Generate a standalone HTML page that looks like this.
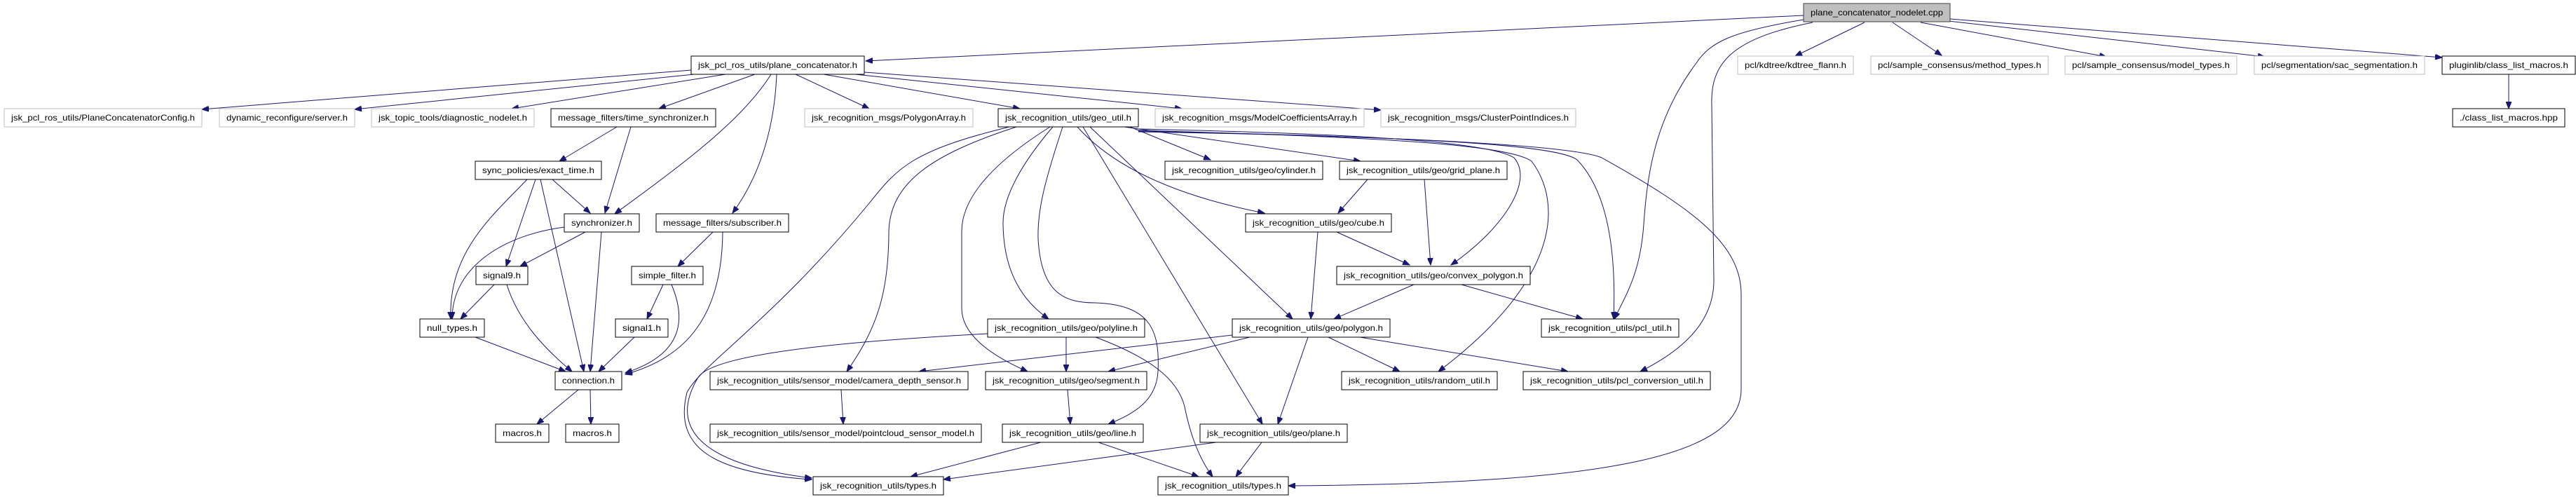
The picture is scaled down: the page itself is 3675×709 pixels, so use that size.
<!DOCTYPE html>
<html><head><meta charset="utf-8"><style>
html,body{margin:0;padding:0;background:#fff;}
svg{display:block;}
text{font-family:"Liberation Sans",sans-serif;font-size:12px;fill:#000;}
.g{fill:#fff;stroke:#bfbfbf;stroke-width:1;}
.b{fill:#fff;stroke:#000;stroke-width:1;}
.e{fill:none;stroke:#191970;stroke-width:1;marker-end:url(#a);}
</style></head><body>
<svg width="3675" height="709" viewBox="0 0 3675 709" xmlns="http://www.w3.org/2000/svg">
<defs><marker id="a" markerUnits="userSpaceOnUse" markerWidth="11" markerHeight="8" refX="10" refY="4" orient="auto"><path d="M0,0 L10,4 L0,8 z" fill="#191970" stroke="#191970"/></marker></defs>
<g>
<path class="e" d="M2573,22 L1235,87"/>
<path class="e" d="M2660,32 L2561,80"/>
<path class="e" d="M2700,32 L2770,79"/>
<path class="e" d="M2740,32 L3005,81"/>
<path class="e" d="M2780,30 L3231,81"/>
<path class="e" d="M2782,27 L3484,82"/>
<path class="e" d="M2573,28 C2470,45 2440,60 2420,90 C2360,170 2350,250 2345,320 C2340,390 2320,420 2303,455"/>
<path class="e" d="M2586,32 C2470,55 2440,90 2442,150 L2445,400 C2445,460 2400,500 2340,530"/>
<path class="e" d="M3579,106 L3579,155"/>
<path class="e" d="M986,100 L288,156"/>
<path class="e" d="M990,106 L506,156"/>
<path class="e" d="M1035,106 L730,155"/>
<path class="e" d="M1077,106 L940,155"/>
<path class="e" d="M1100,106 C1060,170 980,230 877,305"/>
<path class="e" d="M1108,106 C1105,180 1085,250 1045,304"/>
<path class="e" d="M1135,106 L1240,155"/>
<path class="e" d="M1175,106 L1455,155"/>
<path class="e" d="M1220,106 L1686,155"/>
<path class="e" d="M1233,103 L1970,157"/>
<path class="e" d="M880,181 L798,230"/>
<path class="e" d="M900,181 L863,304"/>
<path class="e" d="M788,256 L842,304"/>
<path class="e" d="M764,256 L722,380"/>
<path class="e" d="M752,256 C700,310 640,360 643,455"/>
<path class="e" d="M771,256 L833,530"/>
<path class="e" d="M805,324 C720,335 645,380 645,455"/>
<path class="e" d="M835,331 L742,380"/>
<path class="e" d="M858,331 L842,530"/>
<path class="e" d="M705,406 L657,455"/>
<path class="e" d="M723,406 C740,460 780,500 816,530"/>
<path class="e" d="M678,481 L807,530"/>
<path class="e" d="M905,481 L854,530"/>
<path class="e" d="M946,406 L923,455"/>
<path class="e" d="M958,406 C985,470 960,510 892,532"/>
<path class="e" d="M1017,331 L967,380"/>
<path class="e" d="M1031,331 C1030,450 980,510 892,534"/>
<path class="e" d="M825,556 L766,605"/>
<path class="e" d="M842,556 L843,605"/>
<path class="e" d="M1440,181 C1300,215 1280,240 1240,290 C1100,460 1000,520 980,560 C960,640 1020,675 1158,684"/>
<path class="e" d="M1450,181 C1330,220 1270,260 1268,330 C1268,420 1250,470 1208,530"/>
<path class="e" d="M1498,181 C1420,230 1372,280 1372,330 L1372,440 C1372,480 1420,510 1466,530"/>
<path class="e" d="M1502,181 C1460,230 1430,280 1431,320 C1432,390 1460,430 1496,455"/>
<path class="e" d="M1516,181 C1490,260 1480,300 1481,340 C1485,420 1520,432 1563,432 C1640,435 1655,470 1652,530 C1650,570 1620,590 1581,605"/>
<path class="e" d="M1545,181 L1801,605"/>
<path class="e" d="M1555,181 L1844,455"/>
<path class="e" d="M1612,181 L1727,228"/>
<path class="e" d="M1537,181 C1590,240 1680,280 1804,304"/>
<path class="e" d="M1604,181 L1941,230"/>
<path class="e" d="M1624,184 C1900,190 2120,200 2160,225 C2190,260 2140,330 2070,378"/>
<path class="e" d="M1624,186 C1950,195 2150,205 2185,230 C2230,290 2225,400 2052,530"/>
<path class="e" d="M1624,187 C2000,195 2220,205 2250,228 C2300,280 2305,380 2302,455"/>
<path class="e" d="M1624,188 C2050,195 2250,210 2285,225 C2420,300 2484,350 2484,420 L2484,555 C2484,650 2300,690 1838,693"/>
<path class="e" d="M1951,256 L1909,304"/>
<path class="e" d="M2032,256 L2041,378"/>
<path class="e" d="M1880,331 L1870,455"/>
<path class="e" d="M1907,331 L2011,378"/>
<path class="e" d="M2017,406 L1903,455"/>
<path class="e" d="M2085,406 L2258,455"/>
<path class="e" d="M1783,481 L1581,530"/>
<path class="e" d="M1758,478 L1311,530"/>
<path class="e" d="M1895,481 L1997,530"/>
<path class="e" d="M1940,481 L2237,530"/>
<path class="e" d="M1866,481 L1823,605"/>
<path class="e" d="M1521,481 L1521,530"/>
<path class="e" d="M1409,476 C1150,490 1010,510 995,540 C960,600 980,660 1158,682"/>
<path class="e" d="M1563,481 C1640,510 1680,540 1690,580 C1700,630 1715,660 1730,680"/>
<path class="e" d="M1200,556 L1203,605"/>
<path class="e" d="M1523,556 L1527,605"/>
<path class="e" d="M1485,631 L1299,680"/>
<path class="e" d="M1567,631 L1710,680"/>
<path class="e" d="M1735,631 L1346,684"/>
<path class="e" d="M1800,631 L1763,680"/>
</g>
<g>
<rect x="2573" y="5" width="209" height="26" fill="#bfbfbf" stroke="#404040"/><text x="2677.5" y="22" text-anchor="middle" textLength="189" lengthAdjust="spacingAndGlyphs">plane_concatenator_nodelet.cpp</text>

<rect class="g" x="6" y="155" width="282" height="26"/><text x="147" y="172" text-anchor="middle" textLength="262" lengthAdjust="spacingAndGlyphs">jsk_pcl_ros_utils/PlaneConcatenatorConfig.h</text>
<rect class="g" x="313" y="155" width="193" height="26"/><text x="409.5" y="172" text-anchor="middle" textLength="173" lengthAdjust="spacingAndGlyphs">dynamic_reconfigure/server.h</text>
<rect class="g" x="530" y="155" width="232" height="26"/><text x="646" y="172" text-anchor="middle" textLength="212" lengthAdjust="spacingAndGlyphs">jsk_topic_tools/diagnostic_nodelet.h</text>
<rect class="g" x="1148" y="155" width="240" height="26"/><text x="1268" y="172" text-anchor="middle" textLength="220" lengthAdjust="spacingAndGlyphs">jsk_recognition_msgs/PolygonArray.h</text>
<rect class="g" x="1648" y="155" width="298" height="26"/><text x="1797" y="172" text-anchor="middle" textLength="278" lengthAdjust="spacingAndGlyphs">jsk_recognition_msgs/ModelCoefficientsArray.h</text>
<rect class="g" x="1970" y="155" width="278" height="26"/><text x="2109" y="172" text-anchor="middle" textLength="258" lengthAdjust="spacingAndGlyphs">jsk_recognition_msgs/ClusterPointIndices.h</text>
<rect class="g" x="2479" y="80" width="165" height="26"/><text x="2561.5" y="97" text-anchor="middle" textLength="145" lengthAdjust="spacingAndGlyphs">pcl/kdtree/kdtree_flann.h</text>
<rect class="g" x="2669" y="80" width="253" height="26"/><text x="2795.5" y="97" text-anchor="middle" textLength="233" lengthAdjust="spacingAndGlyphs">pcl/sample_consensus/method_types.h</text>
<rect class="g" x="2946" y="80" width="245" height="26"/><text x="3068.5" y="97" text-anchor="middle" textLength="225" lengthAdjust="spacingAndGlyphs">pcl/sample_consensus/model_types.h</text>
<rect class="g" x="3216" y="80" width="243" height="26"/><text x="3337.5" y="97" text-anchor="middle" textLength="223" lengthAdjust="spacingAndGlyphs">pcl/segmentation/sac_segmentation.h</text>

<rect class="b" x="986" y="80" width="247" height="26"/><text x="1109.5" y="97" text-anchor="middle" textLength="227" lengthAdjust="spacingAndGlyphs">jsk_pcl_ros_utils/plane_concatenator.h</text>
<rect class="b" x="3484" y="80" width="190" height="26"/><text x="3579" y="97" text-anchor="middle" textLength="170" lengthAdjust="spacingAndGlyphs">pluginlib/class_list_macros.h</text>
<rect class="b" x="3499" y="155" width="160" height="26"/><text x="3579" y="172" text-anchor="middle" textLength="140" lengthAdjust="spacingAndGlyphs">./class_list_macros.hpp</text>
<rect class="b" x="786" y="155" width="235" height="26"/><text x="903.5" y="172" text-anchor="middle" textLength="215" lengthAdjust="spacingAndGlyphs">message_filters/time_synchronizer.h</text>
<rect class="b" x="1424" y="155" width="200" height="26"/><text x="1524" y="172" text-anchor="middle" textLength="180" lengthAdjust="spacingAndGlyphs">jsk_recognition_utils/geo_util.h</text>
<rect class="b" x="678" y="230" width="180" height="26"/><text x="768" y="247" text-anchor="middle" textLength="160" lengthAdjust="spacingAndGlyphs">sync_policies/exact_time.h</text>
<rect class="b" x="1662" y="230" width="225" height="26"/><text x="1774.5" y="247" text-anchor="middle" textLength="205" lengthAdjust="spacingAndGlyphs">jsk_recognition_utils/geo/cylinder.h</text>
<rect class="b" x="1911" y="230" width="239" height="26"/><text x="2030.5" y="247" text-anchor="middle" textLength="219" lengthAdjust="spacingAndGlyphs">jsk_recognition_utils/geo/grid_plane.h</text>
<rect class="b" x="805" y="305" width="107" height="26"/><text x="858.5" y="322" text-anchor="middle" textLength="87" lengthAdjust="spacingAndGlyphs">synchronizer.h</text>
<rect class="b" x="936" y="305" width="189" height="26"/><text x="1030.5" y="322" text-anchor="middle" textLength="169" lengthAdjust="spacingAndGlyphs">message_filters/subscriber.h</text>
<rect class="b" x="1777" y="305" width="208" height="26"/><text x="1881" y="322" text-anchor="middle" textLength="188" lengthAdjust="spacingAndGlyphs">jsk_recognition_utils/geo/cube.h</text>
<rect class="b" x="679" y="380" width="74" height="26"/><text x="716" y="397" text-anchor="middle" textLength="54" lengthAdjust="spacingAndGlyphs">signal9.h</text>
<rect class="b" x="901" y="380" width="102" height="26"/><text x="952" y="397" text-anchor="middle" textLength="82" lengthAdjust="spacingAndGlyphs">simple_filter.h</text>
<rect class="b" x="1907" y="380" width="276" height="26"/><text x="2045" y="397" text-anchor="middle" textLength="256" lengthAdjust="spacingAndGlyphs">jsk_recognition_utils/geo/convex_polygon.h</text>
<rect class="b" x="599" y="455" width="92" height="26"/><text x="645" y="472" text-anchor="middle" textLength="72" lengthAdjust="spacingAndGlyphs">null_types.h</text>
<rect class="b" x="878" y="455" width="75" height="26"/><text x="915.5" y="472" text-anchor="middle" textLength="55" lengthAdjust="spacingAndGlyphs">signal1.h</text>
<rect class="b" x="1409" y="455" width="224" height="26"/><text x="1521" y="472" text-anchor="middle" textLength="204" lengthAdjust="spacingAndGlyphs">jsk_recognition_utils/geo/polyline.h</text>
<rect class="b" x="1758" y="455" width="225" height="26"/><text x="1870.5" y="472" text-anchor="middle" textLength="205" lengthAdjust="spacingAndGlyphs">jsk_recognition_utils/geo/polygon.h</text>
<rect class="b" x="2199" y="455" width="196" height="26"/><text x="2297" y="472" text-anchor="middle" textLength="176" lengthAdjust="spacingAndGlyphs">jsk_recognition_utils/pcl_util.h</text>
<rect class="b" x="792" y="530" width="95" height="26"/><text x="839.5" y="547" text-anchor="middle" textLength="75" lengthAdjust="spacingAndGlyphs">connection.h</text>
<rect class="b" x="1013" y="530" width="368" height="26"/><text x="1197" y="547" text-anchor="middle" textLength="348" lengthAdjust="spacingAndGlyphs">jsk_recognition_utils/sensor_model/camera_depth_sensor.h</text>
<rect class="b" x="1406" y="530" width="230" height="26"/><text x="1521" y="547" text-anchor="middle" textLength="210" lengthAdjust="spacingAndGlyphs">jsk_recognition_utils/geo/segment.h</text>
<rect class="b" x="1914" y="530" width="222" height="26"/><text x="2025" y="547" text-anchor="middle" textLength="202" lengthAdjust="spacingAndGlyphs">jsk_recognition_utils/random_util.h</text>
<rect class="b" x="2173" y="530" width="267" height="26"/><text x="2306.5" y="547" text-anchor="middle" textLength="247" lengthAdjust="spacingAndGlyphs">jsk_recognition_utils/pcl_conversion_util.h</text>
<rect class="b" x="707" y="605" width="76" height="26"/><text x="745" y="622" text-anchor="middle" textLength="56" lengthAdjust="spacingAndGlyphs">macros.h</text>
<rect class="b" x="807" y="605" width="76" height="26"/><text x="845" y="622" text-anchor="middle" textLength="56" lengthAdjust="spacingAndGlyphs">macros.h</text>
<rect class="b" x="1013" y="605" width="387" height="26"/><text x="1206.5" y="622" text-anchor="middle" textLength="367" lengthAdjust="spacingAndGlyphs">jsk_recognition_utils/sensor_model/pointcloud_sensor_model.h</text>
<rect class="b" x="1430" y="605" width="201" height="26"/><text x="1530.5" y="622" text-anchor="middle" textLength="181" lengthAdjust="spacingAndGlyphs">jsk_recognition_utils/geo/line.h</text>
<rect class="b" x="1712" y="605" width="210" height="26"/><text x="1817" y="622" text-anchor="middle" textLength="190" lengthAdjust="spacingAndGlyphs">jsk_recognition_utils/geo/plane.h</text>
<rect class="b" x="1160" y="680" width="186" height="26"/><text x="1253" y="697" text-anchor="middle" textLength="166" lengthAdjust="spacingAndGlyphs">jsk_recognition_utils/types.h</text>
<rect class="b" x="1652" y="680" width="186" height="26"/><text x="1745" y="697" text-anchor="middle" textLength="166" lengthAdjust="spacingAndGlyphs">jsk_recognition_utils/types.h</text>
</g>
</svg>
</body></html>
